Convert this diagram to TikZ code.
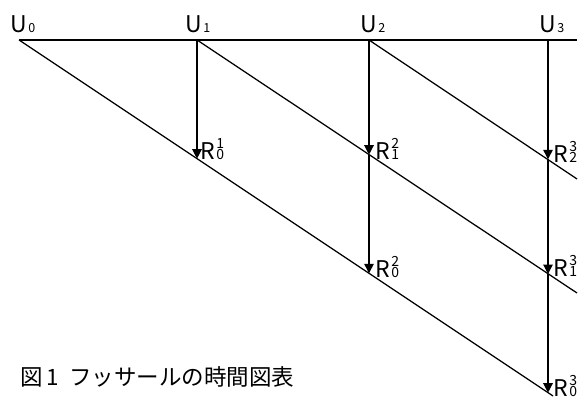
\documentclass[tikz,border=0pt]{standalone}
\usepackage{fontspec}
\setmainfont{Noto Sans CJK JP}
\usetikzlibrary{arrows.meta}
\newcommand\Ulab[1]{U\kern1.5pt{\fontsize{12.5}{12.5}\selectfont #1}}
\newcommand\Rlab[2]{R\kern1.5pt\rlap{\raisebox{11pt}{\fontsize{14}{14}\selectfont #1}}{\fontsize{14}{14}\selectfont #2}}
\begin{document}
\begin{tikzpicture}[x=1pt,y=-1pt,
  ln/.style={line width=1.25pt,black},
  arr/.style={ln,-{Triangle[length=9.5pt,width=9.5pt]}},
  ulab/.style={anchor=base west,inner sep=0pt,font=\fontsize{23}{23}\selectfont},
  rlab/.style={anchor=base west,inner sep=0pt,font=\fontsize{23}{23}\selectfont},
  captext/.style={anchor=base west,inner sep=0pt,font=\fontsize{22.5}{22.5}\selectfont}]
\useasboundingbox (0,0) rectangle (585,401);
% time-line points
\coordinate (u0) at (19,40);
\coordinate (u1) at (197,40);
\coordinate (u2) at (369,40);
\coordinate (u3) at (548,40);
\coordinate (uend) at (577,40);
% retention points
\coordinate (r01) at (197,158.7);
\coordinate (r12) at (369,154.7);
\coordinate (r23) at (548,159.3);
\coordinate (r02) at (369,273.3);
\coordinate (r13) at (548,274);
\coordinate (r03) at (548,392.7);
% ends of the diagonals
\coordinate (e0) at (553,396);
\coordinate (e1) at (577,293);
\coordinate (e2) at (577,179);
% lines
\draw[ln] (u0) -- (uend);
\draw[ln] (u0) -- (e0);
\draw[ln] (u1) -- (e1);
\draw[ln] (u2) -- (e2);
% vertical arrows
\draw[arr] (u1) -- (r01);
\draw[arr] (u2) -- (r12);
\draw[arr] (r12) -- (r02);
\draw[arr] (u3) -- (r23);
\draw[arr] (r23) -- (r13);
\draw[arr] (r13) -- (r03);
% labels
\node[ulab] (lu0) at (10,33) {\Ulab{0}};
\node[ulab] (lu1) at (185,33) {\Ulab{1}};
\node[ulab] (lu2) at (360,33) {\Ulab{2}};
\node[ulab] (lu3) at (539,33) {\Ulab{3}};
\node[rlab] (lr01) at (200,159) {\Rlab{1}{0}};
\node[rlab] (lr12) at (375,159) {\Rlab{2}{1}};
\node[rlab] (lr23) at (553,162) {\Rlab{3}{2}};
\node[rlab] (lr02) at (375,277) {\Rlab{2}{0}};
\node[rlab] (lr13) at (553,276) {\Rlab{3}{1}};
\node[rlab] (lr03) at (553,396) {\Rlab{3}{0}};
\node[captext] (caption) at (20,385) {図\kern4pt 1\kern10pt フッサールの時間図表};
\end{tikzpicture}
\end{document}
